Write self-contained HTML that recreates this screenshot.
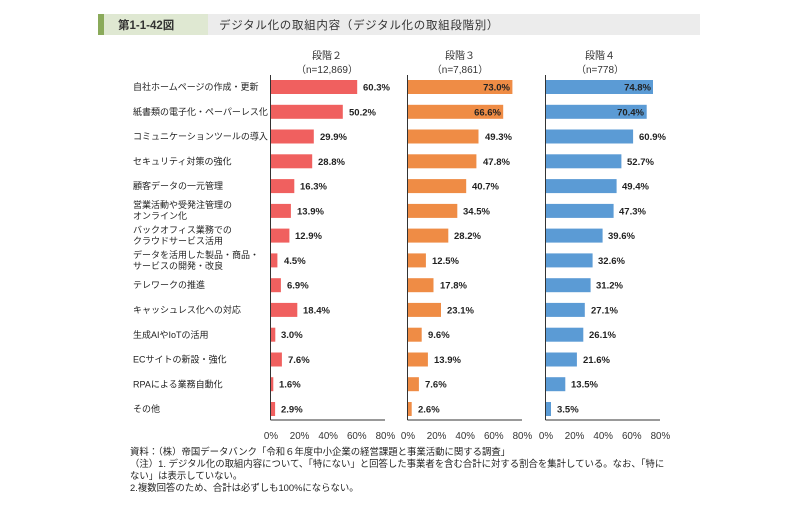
<!DOCTYPE html>
<html><head><meta charset="utf-8"><style>
html,body{margin:0;padding:0;background:#fff;}
svg{display:block;font-family:"Liberation Sans","Noto Sans CJK JP",sans-serif;}
.l{font-size:9px;fill:#222;}
.v{font-size:9.5px;font-weight:bold;fill:#222;}
.t{font-size:9.8px;fill:#333;text-anchor:middle;}
.h{font-size:10px;fill:#333;text-anchor:middle;}
.n{font-size:9.4px;fill:#222;}
</style></head><body>
<svg width="800" height="508" viewBox="0 0 800 508">
<rect x="98" y="14" width="602" height="21" fill="#ececec"/>
<rect x="98" y="14" width="110" height="21" fill="#dfe8d2"/>
<rect x="98" y="14" width="6" height="21" fill="#8aaa5a"/>
<text x="118" y="29" style="font-size:11.5px;font-weight:bold;fill:#333">第1-1-42図</text>
<text x="219" y="29" style="font-size:11.5px;fill:#333;letter-spacing:0.7px">デジタル化の取組内容（デジタル化の取組段階別）</text>

<text class="h" x="327" y="59">段階２</text><text class="h" x="327" y="73">（n=12,869）</text>
<text class="h" x="460" y="59">段階３</text><text class="h" x="460" y="73">（n=7,861）</text>
<text class="h" x="600" y="59">段階４</text><text class="h" x="600" y="73">（n=778）</text>

<g class="l">
<text x="133" y="90">自社ホームページの作成・更新</text>
<text x="133" y="115">紙書類の電子化・ペーパーレス化</text>
<text x="133" y="139.5">コミュニケーションツールの導入</text>
<text x="133" y="164.3">セキュリティ対策の強化</text>
<text x="133" y="189">顧客データの一元管理</text>
<text x="133" y="208">営業活動や受発注管理の</text><text x="133" y="219">オンライン化</text>
<text x="133" y="233">バックオフィス業務での</text><text x="133" y="244">クラウドサービス活用</text>
<text x="133" y="258">データを活用した製品・商品・</text><text x="133" y="269">サービスの開発・改良</text>
<text x="133" y="288">テレワークの推進</text>
<text x="133" y="313">キャッシュレス化への対応</text>
<text x="133" y="338">生成AIやIoTの活用</text>
<text x="133" y="362.5">ECサイトの新設・強化</text>
<text x="133" y="387.5">RPAによる業務自動化</text>
<text x="133" y="412">その他</text>
</g>

<g stroke="#333" stroke-width="1">
<line x1="270.5" y1="75" x2="270.5" y2="420"/><line x1="270.5" y1="420" x2="385" y2="420"/>
<line x1="407.5" y1="75" x2="407.5" y2="420"/><line x1="407.5" y1="420" x2="522" y2="420"/>
<line x1="545.5" y1="75" x2="545.5" y2="420"/><line x1="545.5" y1="420" x2="660" y2="420"/>
</g>

<g fill="#f0605f">
<rect x="271" y="80" width="86.2" height="14"/>
<rect x="271" y="104.8" width="71.8" height="14"/>
<rect x="271" y="129.5" width="42.8" height="14"/>
<rect x="271" y="154.3" width="41.2" height="14"/>
<rect x="271" y="179.1" width="23.3" height="14"/>
<rect x="271" y="203.9" width="19.9" height="14"/>
<rect x="271" y="228.6" width="18.4" height="14"/>
<rect x="271" y="253.4" width="6.4" height="14"/>
<rect x="271" y="278.2" width="9.9" height="14"/>
<rect x="271" y="302.9" width="26.3" height="14"/>
<rect x="271" y="327.7" width="4.3" height="14"/>
<rect x="271" y="352.5" width="10.9" height="14"/>
<rect x="271" y="377.2" width="2.3" height="14"/>
<rect x="271" y="402" width="4.1" height="14"/>
</g>
<g fill="#ef8c45">
<rect x="408" y="80" width="104.4" height="14"/>
<rect x="408" y="104.8" width="95.2" height="14"/>
<rect x="408" y="129.5" width="70.5" height="14"/>
<rect x="408" y="154.3" width="68.4" height="14"/>
<rect x="408" y="179.1" width="58.2" height="14"/>
<rect x="408" y="203.9" width="49.3" height="14"/>
<rect x="408" y="228.6" width="40.3" height="14"/>
<rect x="408" y="253.4" width="17.9" height="14"/>
<rect x="408" y="278.2" width="25.5" height="14"/>
<rect x="408" y="302.9" width="33" height="14"/>
<rect x="408" y="327.7" width="13.7" height="14"/>
<rect x="408" y="352.5" width="19.9" height="14"/>
<rect x="408" y="377.2" width="10.9" height="14"/>
<rect x="408" y="402" width="3.7" height="14"/>
</g>
<g fill="#5b9bd5">
<rect x="546" y="80" width="107" height="14"/>
<rect x="546" y="104.8" width="100.7" height="14"/>
<rect x="546" y="129.5" width="87.1" height="14"/>
<rect x="546" y="154.3" width="75.4" height="14"/>
<rect x="546" y="179.1" width="70.6" height="14"/>
<rect x="546" y="203.9" width="67.6" height="14"/>
<rect x="546" y="228.6" width="56.6" height="14"/>
<rect x="546" y="253.4" width="46.6" height="14"/>
<rect x="546" y="278.2" width="44.6" height="14"/>
<rect x="546" y="302.9" width="38.8" height="14"/>
<rect x="546" y="327.7" width="37.3" height="14"/>
<rect x="546" y="352.5" width="30.9" height="14"/>
<rect x="546" y="377.2" width="19.3" height="14"/>
<rect x="546" y="402" width="5" height="14"/>
</g>

<g class="v">
<text x="363" y="90.5">60.3%</text>
<text x="349" y="115.3">50.2%</text>
<text x="320" y="140">29.9%</text>
<text x="318" y="164.8">28.8%</text>
<text x="300" y="189.6">16.3%</text>
<text x="297" y="214.4">13.9%</text>
<text x="295" y="239.1">12.9%</text>
<text x="284" y="263.9">4.5%</text>
<text x="287" y="288.7">6.9%</text>
<text x="303" y="313.4">18.4%</text>
<text x="281" y="338.2">3.0%</text>
<text x="288" y="363">7.6%</text>
<text x="279" y="387.7">1.6%</text>
<text x="281" y="412.5">2.9%</text>

<text x="510" y="90.5" text-anchor="end">73.0%</text>
<text x="501" y="115.3" text-anchor="end">66.6%</text>
<text x="485" y="140">49.3%</text>
<text x="483" y="164.8">47.8%</text>
<text x="472" y="189.6">40.7%</text>
<text x="463" y="214.4">34.5%</text>
<text x="454" y="239.1">28.2%</text>
<text x="432" y="263.9">12.5%</text>
<text x="440" y="288.7">17.8%</text>
<text x="447" y="313.4">23.1%</text>
<text x="428" y="338.2">9.6%</text>
<text x="434" y="363">13.9%</text>
<text x="425" y="387.7">7.6%</text>
<text x="418" y="412.5">2.6%</text>

<text x="651" y="90.5" text-anchor="end">74.8%</text>
<text x="644" y="115.3" text-anchor="end">70.4%</text>
<text x="639" y="140">60.9%</text>
<text x="627" y="164.8">52.7%</text>
<text x="622" y="189.6">49.4%</text>
<text x="619" y="214.4">47.3%</text>
<text x="608" y="239.1">39.6%</text>
<text x="598" y="263.9">32.6%</text>
<text x="596" y="288.7">31.2%</text>
<text x="591" y="313.4">27.1%</text>
<text x="589" y="338.2">26.1%</text>
<text x="583" y="363">21.6%</text>
<text x="571" y="387.7">13.5%</text>
<text x="557" y="412.5">3.5%</text>
</g>

<g class="t">
<text x="271" y="439">0%</text><text x="299.6" y="439">20%</text><text x="328.2" y="439">40%</text><text x="356.8" y="439">60%</text><text x="385.4" y="439">80%</text>
<text x="408" y="439">0%</text><text x="436.6" y="439">20%</text><text x="465.2" y="439">40%</text><text x="493.8" y="439">60%</text><text x="522.4" y="439">80%</text>
<text x="546" y="439">0%</text><text x="574.6" y="439">20%</text><text x="603.2" y="439">40%</text><text x="631.8" y="439">60%</text><text x="660.4" y="439">80%</text>
</g>

<g class="n">
<text x="130" y="455">資料：（株）帝国データバンク「令和６年度中小企業の経営課題と事業活動に関する調査」</text>
<text x="130" y="467">（注）1. デジタル化の取組内容について、「特にない」と回答した事業者を含む合計に対する割合を集計している。なお、「特に</text>
<text x="130" y="479">ない」は表示していない。</text>
<text x="130" y="491">2.複数回答のため、合計は必ずしも100%にならない。</text>
</g>
</svg>
</body></html>
